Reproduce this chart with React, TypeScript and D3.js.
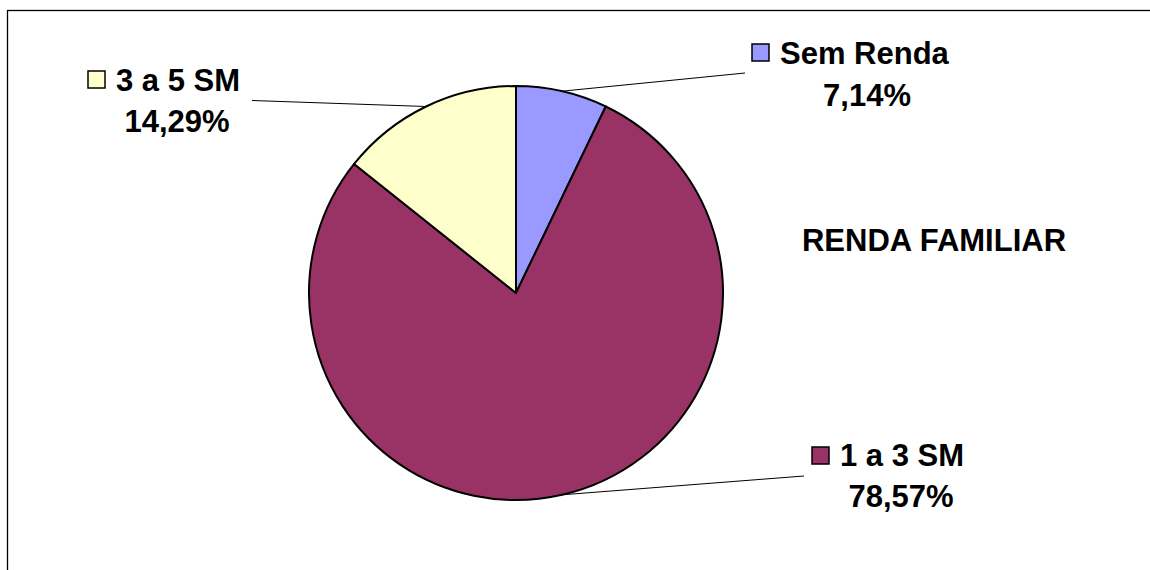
import React from "react";
import * as d3 from "d3";

const categories = ["Sem Renda", "1 a 3 SM", "3 a 5 SM"];
const values = [7.14, 78.57, 14.29];
const valueLabels = ["7,14%", "78,57%", "14,29%"];
const colors = ["#9999FF", "#993366", "#FFFFCC"];
const title = "RENDA FAMILIAR";

const W = 1150;
const H = 570;
const cx = 516;
const cy = 293;
const R = 207;

const labelLayout = [
  { sq: [752, 44], name: [780, 64], val: [867, 106], end: [745, 73] },
  { sq: [812, 447], name: [840, 466], val: [901, 507], end: [804, 476] },
  { sq: [88, 71], name: [116, 91], val: [177, 132], end: [252, 100.5] },
];

export default function App() {
  const pie = d3
    .pie<number>()
    .sort(null)
    .value((d) => d);
  const arcs = pie(values);
  const arc = d3.arc<d3.PieArcDatum<number>>().innerRadius(0).outerRadius(R);
  const font = "'Liberation Sans', Arial, Helvetica, sans-serif";

  return (
    <svg
      width={W}
      height={H}
      style={{ position: "absolute", left: 0, top: 0, background: "#fff" }}
      fontFamily={font}
    >
      <rect x={0} y={0} width={W} height={H} fill="#fff" />
      <rect
        x={7.5}
        y={10.5}
        width={W + 20}
        height={H + 20}
        fill="none"
        stroke="#000"
        strokeWidth={1.3}
      />
      <g transform={`translate(${cx},${cy})`}>
        {arcs.map((a, i) => (
          <path
            key={i}
            d={arc(a) || ""}
            fill={colors[i]}
            stroke="#000"
            strokeWidth={2}
            strokeLinejoin="round"
          />
        ))}
      </g>
      {arcs.map((a, i) => {
        const mid = (a.startAngle + a.endAngle) / 2;
        const sx = cx + R * Math.sin(mid);
        const sy = cy - R * Math.cos(mid);
        const L = labelLayout[i];
        return (
          <g key={i}>
            <line
              x1={sx}
              y1={sy}
              x2={L.end[0]}
              y2={L.end[1]}
              stroke="#000"
              strokeWidth={1}
            />
            <rect
              x={L.sq[0]}
              y={L.sq[1]}
              width={17}
              height={17}
              fill={colors[i]}
              stroke="#000"
              strokeWidth={1.5}
            />
            <text
              x={L.name[0]}
              y={L.name[1]}
              fontSize={31}
              fontWeight="bold"
              fill="#000"
            >
              {categories[i]}
            </text>
            <text
              x={L.val[0]}
              y={L.val[1]}
              fontSize={31}
              fontWeight="bold"
              fill="#000"
              textAnchor="middle"
            >
              {valueLabels[i]}
            </text>
          </g>
        );
      })}
      <text x={934} y={251} fontSize={31} fontWeight="bold" textAnchor="middle" fill="#000">
        {title}
      </text>
    </svg>
  );
}
